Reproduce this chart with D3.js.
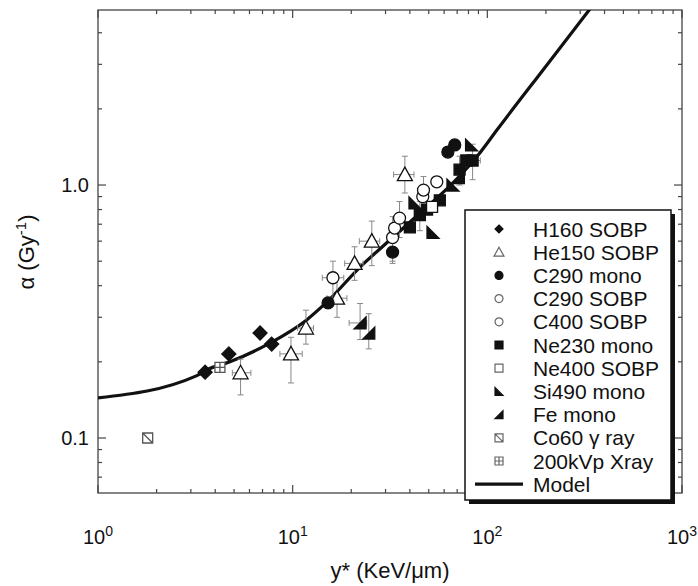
<!DOCTYPE html>
<html>
<head>
<meta charset="utf-8">
<script src="https://cdn.jsdelivr.net/npm/d3@7"></script>
<style>
  body { margin: 0; background: #fff; }
  text { font-family: 'Liberation Sans', Arial, Helvetica, sans-serif; fill: #111; }
</style>
</head>
<body>
<svg id="svg" width="698" height="586"></svg>
<script>
// points: [y*, alpha, alphaLo, alphaHi, yLo, yHi]
const h160 = [[3.55, 0.182], [4.7, 0.215], [6.8, 0.26], [7.8, 0.235]]
const he150 = [
  [5.4, 0.181, 0.148, 0.205, 4.9, 6.1],
  [9.8, 0.215, 0.165, 0.25, 8.6, 11.2],
  [11.7, 0.272, 0.235, 0.32, 10.6, 12.8],
  [16.9, 0.357, 0.30, 0.43, 15, 19],
  [20.8, 0.49, 0.42, 0.57, 18.5, 23],
  [25.5, 0.60, 0.48, 0.72, 22, 28],
  [37.7, 1.10, 0.93, 1.30, 33, 42]
]
const c290mono = [[15.2, 0.342], [32.6, 0.543, 0.49, 0.6], [62.7, 1.35], [68, 1.44]]
const c290sobp = [[16.1, 0.43, 0.36, 0.50, 14.2, 18.3], [32.6, 0.62, 0.50, 0.75], [33.4, 0.676], [46.6, 0.90]]
const c400sobp = [[35.4, 0.74, 0.62, 0.86], [47, 0.955, 0.85, 1.08], [55, 1.03]]
const ne230mono = [[40, 0.68], [45, 0.76, 0.66, 0.86], [49, 0.80], [57, 0.87], [72, 1.15, 1.0, 1.3], [78, 1.25], [84, 1.25, 1.05, 1.45, 76, 92]]
const ne400sobp = [[52, 0.82]]
const si490mono = [[42.5, 0.85], [52.6, 0.65], [66.6, 1.0], [83, 1.44]]
const feMono = [[22.2, 0.285, 0.245, 0.34, 19.5, 24], [24.6, 0.26, 0.225, 0.31], [71, 1.07]]
const co60 = [[1.8, 0.1]]
const xray200 = [[4.23, 0.19]]

const modelX = [1, 3.2, 3.63, 4.76, 7.63, 11.8, 15, 22.2, 31.6, 45.1, 66.6, 91.5, 112, 200, 400]
const modelY = [0.144, 0.176, 0.186, 0.2, 0.237, 0.293, 0.345, 0.474, 0.606, 0.775, 1.02, 1.34, 1.65, 2.95, 5.9]

const xTicks = [1, 10, 100, 1000]
const yTicks = [0.1, 1]
const yTickLabels = ['0.1', '1.0']

const shapes = {
  diamond: s => `M0,${-s}L${s},0L0,${s}L${-s},0Z`,
  triangle: s => `M0,${-s}L${s},${s * 0.8}L${-s},${s * 0.8}Z`,
  circle: s => `M${-s},0A${s},${s} 0 1,0 ${s},0A${s},${s} 0 1,0 ${-s},0Z`,
  square: s => `M${-s},${-s}H${s}V${s}H${-s}Z`,
  siTri: s => `M${-s},${-s}L${-s},${s}L${s},${s}Z`,
  feTri: s => `M${s},${-s}L${s},${s}L${-s},${s}Z`,
  co60: s => `M${-s},${-s}H${s}V${s}H${-s}ZM${-s},${-s}L${s},${s}`,
  xray: s => `M${-s},${-s}H${s}V${s}H${-s}ZM0,${-s}V${s}M${-s},0H${s}`
}

const series = [
  { label: 'H160 SOBP', shape: 'diamond', fill: '#111', size: 7, data: h160 },
  { label: 'He150 SOBP', shape: 'triangle', fill: '#fff', size: 7.5, data: he150 },
  { label: 'C290 mono', shape: 'circle', fill: '#111', size: 6, data: c290mono },
  { label: 'C290 SOBP', shape: 'circle', fill: '#fff', size: 6, data: c290sobp },
  { label: 'C400 SOBP', shape: 'circle', fill: '#fff', size: 6, data: c400sobp },
  { label: 'Ne230 mono', shape: 'square', fill: '#111', size: 5.5, data: ne230mono },
  { label: 'Ne400 SOBP', shape: 'square', fill: '#fff', size: 5.5, data: ne400sobp },
  { label: 'Si490 mono', shape: 'siTri', fill: '#111', size: 6, data: si490mono },
  { label: 'Fe mono', shape: 'feTri', fill: '#111', size: 6, data: feMono },
  { label: 'Co60 \u03b3 ray', shape: 'co60', fill: '#fff', size: 5, data: co60 },
  { label: '200kVp Xray', shape: 'xray', fill: '#fff', size: 5, data: xray200 }
]

const svg = d3.select('#svg')
svg.append('rect').attr('width', 698).attr('height', 586).attr('fill', '#fff')

const x = d3.scaleLog().domain([1, 1000]).range([98, 682])
const y = d3.scaleLog().domain([0.0606, 4.92]).range([493, 10])

const [x0, x1] = x.range()
const [y0, y1] = y.range()

svg.append('clipPath').attr('id', 'clip')
  .append('rect').attr('x', x0).attr('y', y1).attr('width', x1 - x0).attr('height', y0 - y1)

// ticks, all pointing inwards
const xMinor = d3.range(0, 3).flatMap(e => d3.range(2, 10).map(m => m * 10 ** e))
const yMinor = [0.07, 0.08, 0.09, 0.2, 0.3, 0.4, 0.5, 0.6, 0.7, 0.8, 0.9, 2, 3, 4]
const tickG = svg.append('g').attr('stroke', '#444').attr('stroke-width', 1.2)

xMinor.forEach(v => {
  tickG.append('line').attr('x1', x(v)).attr('x2', x(v)).attr('y1', y0).attr('y2', y0 - 4)
  tickG.append('line').attr('x1', x(v)).attr('x2', x(v)).attr('y1', y1).attr('y2', y1 + 4)
})
xTicks.forEach(v => {
  tickG.append('line').attr('x1', x(v)).attr('x2', x(v)).attr('y1', y0).attr('y2', y0 - 8)
  tickG.append('line').attr('x1', x(v)).attr('x2', x(v)).attr('y1', y1).attr('y2', y1 + 8)
})
yMinor.forEach(v => {
  tickG.append('line').attr('y1', y(v)).attr('y2', y(v)).attr('x1', x0).attr('x2', x0 + 4)
  tickG.append('line').attr('y1', y(v)).attr('y2', y(v)).attr('x1', x1).attr('x2', x1 - 4)
})
yTicks.forEach(v => {
  tickG.append('line').attr('y1', y(v)).attr('y2', y(v)).attr('x1', x0).attr('x2', x0 + 8)
  tickG.append('line').attr('y1', y(v)).attr('y2', y(v)).attr('x1', x1).attr('x2', x1 - 8)
})

svg.append('rect')
  .attr('x', x0).attr('y', y1).attr('width', x1 - x0).attr('height', y0 - y1)
  .attr('fill', 'none').attr('stroke', '#444').attr('stroke-width', 1.3)

// tick labels
const xLab = svg.append('g').selectAll('text')
  .data(xTicks)
  .join('text')
  .attr('x', d => x(d))
  .attr('y', 544)
  .attr('text-anchor', 'middle')
  .style('font-size', '20px')
xLab.append('tspan').text('10')
xLab.append('tspan').text(d => Math.round(Math.log10(d)))
  .attr('dy', -8).style('font-size', '14px')

svg.append('g').selectAll('text')
  .data(yTicks)
  .join('text')
  .attr('x', 89)
  .attr('y', d => y(d) + 7)
  .attr('text-anchor', 'end')
  .style('font-size', '20px')
  .text((d, i) => yTickLabels[i])

// axis titles
svg.append('text')
  .attr('x', 390).attr('y', 578)
  .attr('text-anchor', 'middle')
  .style('font-size', '22px')
  .text('y* (KeV/\u03bcm)')

const yTitle = svg.append('text')
  .attr('transform', 'translate(34, 252) rotate(-90)')
  .attr('text-anchor', 'middle')
  .style('font-size', '22px')
yTitle.append('tspan').text('\u03b1 (Gy')
yTitle.append('tspan').text('-1').attr('dy', -8).style('font-size', '15px')
yTitle.append('tspan').text(')').attr('dy', 8)

// model curve
const line = d3.line()
  .x(d => x(d[0]))
  .y(d => y(d[1]))
  .curve(d3.curveMonotoneX)

const plot = svg.append('g').attr('clip-path', 'url(#clip)')

plot.append('path')
  .datum(modelX.map((d, i) => [d, modelY[i]]))
  .attr('d', line)
  .attr('fill', 'none')
  .attr('stroke', '#111')
  .attr('stroke-width', 3.2)

// error bars
const errG = plot.append('g').attr('stroke', '#888').attr('stroke-width', 1)
series.forEach(s => {
  s.data.forEach(p => {
    const [px, py, lo, hi, xl, xh] = p
    if (lo != null) {
      errG.append('line').attr('x1', x(px)).attr('x2', x(px)).attr('y1', y(lo)).attr('y2', y(hi))
      errG.append('line').attr('x1', x(px) - 3).attr('x2', x(px) + 3).attr('y1', y(lo)).attr('y2', y(lo))
      errG.append('line').attr('x1', x(px) - 3).attr('x2', x(px) + 3).attr('y1', y(hi)).attr('y2', y(hi))
    }
    if (xl != null) {
      errG.append('line').attr('x1', x(xl)).attr('x2', x(xh)).attr('y1', y(py)).attr('y2', y(py))
      errG.append('line').attr('x1', x(xl)).attr('x2', x(xl)).attr('y1', y(py) - 3).attr('y2', y(py) + 3)
      errG.append('line').attr('x1', x(xh)).attr('x2', x(xh)).attr('y1', y(py) - 3).attr('y2', y(py) + 3)
    }
  })
})

// markers
series.forEach(s => {
  plot.append('g').selectAll('path')
    .data(s.data)
    .join('path')
    .attr('transform', d => `translate(${x(d[0])}, ${y(d[1])})`)
    .attr('d', shapes[s.shape](s.size))
    .attr('fill', s.fill)
    .attr('stroke', s.shape === 'co60' || s.shape === 'xray' ? '#555' : '#111')
    .attr('stroke-width', 1.3)
})

// legend
const lg = svg.append('g')
lg.append('rect').attr('x', 469).attr('y', 214).attr('width', 206).attr('height', 290).attr('fill', '#111')
lg.append('rect').attr('x', 465).attr('y', 210).attr('width', 206).attr('height', 290)
  .attr('fill', '#fff').attr('stroke', '#111').attr('stroke-width', 1.5)

const rowY = i => 229 + i * 23.2

series.forEach((s, i) => {
  lg.append('path')
    .attr('transform', `translate(499, ${rowY(i)})`)
    .attr('d', shapes[s.shape](s.shape === 'triangle' ? 5 : 4))
    .attr('fill', s.fill)
    .attr('stroke', s.fill === '#fff' ? '#666' : '#111')
    .attr('stroke-width', 1.2)
  lg.append('text')
    .attr('x', 533).attr('y', rowY(i) + 7.5)
    .style('font-size', '21px')
    .text(s.label)
})
lg.append('line')
  .attr('x1', 475).attr('x2', 523)
  .attr('y1', rowY(series.length)).attr('y2', rowY(series.length))
  .attr('stroke', '#111').attr('stroke-width', 3.2)
lg.append('text')
  .attr('x', 533).attr('y', rowY(series.length) + 7.5)
  .style('font-size', '21px')
  .text('Model')
</script>
</body>
</html>
